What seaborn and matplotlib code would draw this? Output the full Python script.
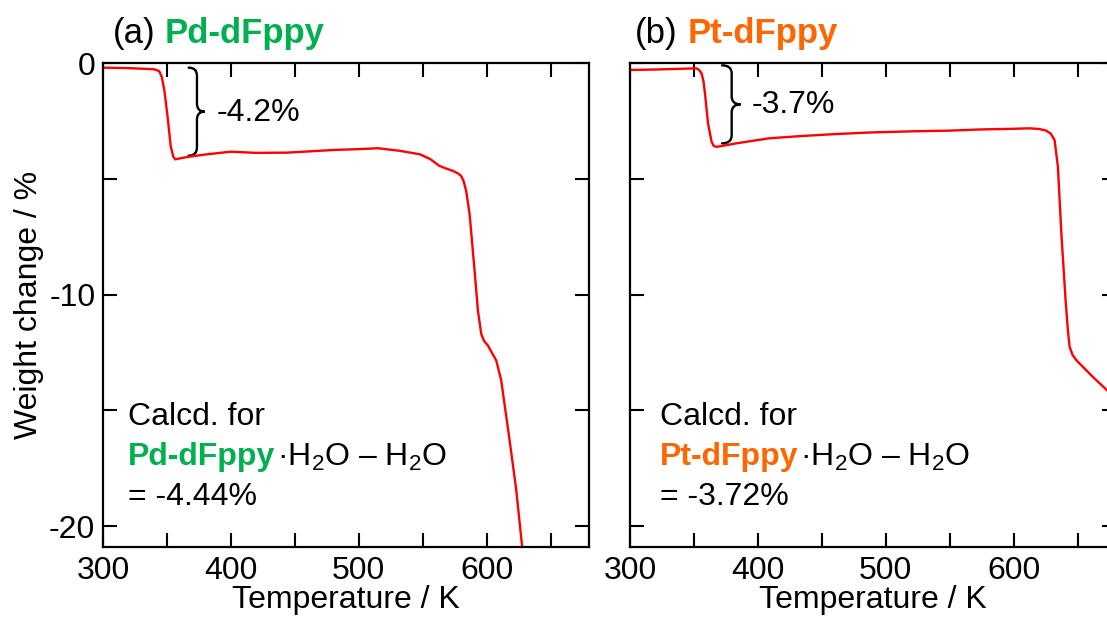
import numpy as np
import pandas as pd
import matplotlib
matplotlib.use("Agg")
import matplotlib.pyplot as plt
import seaborn as sns
from matplotlib.path import Path
from matplotlib.patches import PathPatch
from matplotlib.offsetbox import TextArea, HPacker, AnchoredOffsetbox

# ---------------- data ----------------
pd_temp = [300, 320, 340, 344, 346, 348, 350.5, 353, 355, 356.5, 360, 367, 380,
           400, 420, 444, 460, 482, 500, 515, 532, 547.7, 556, 563, 568, 573.7,
           578, 580, 582, 584, 586.7, 590.6, 593.2, 595.8, 598, 601, 604, 607.5,
           611.4, 618, 623.2, 627.8, 629.5]
pd_weight = [-0.20, -0.22, -0.27, -0.35, -0.60, -1.17, -2.30, -3.60, -4.05, -4.16,
             -4.12, -4.05, -3.95, -3.83, -3.88, -3.87, -3.82, -3.75, -3.72, -3.68,
             -3.79, -3.94, -4.15, -4.44, -4.55, -4.66, -4.78, -4.87, -5.10, -5.52,
             -6.52, -8.97, -10.69, -11.70, -12.00, -12.20, -12.50, -12.84, -13.70,
             -16.30, -18.45, -20.90, -21.60]

pt_temp = [300, 320, 340, 352, 354, 356, 357.5, 358.6, 361, 363.8, 365.5, 367.7,
           372, 383, 409, 435, 460, 487.5, 520, 550, 573.4, 600, 612.5, 620,
           625.5, 629, 632, 634.6, 637.3, 640.6, 642.5, 643.75, 646, 649, 660,
           672.4, 680]
pt_weight = [-0.30, -0.28, -0.25, -0.23, -0.30, -0.45, -0.80, -1.30, -2.60, -3.40,
             -3.58, -3.62, -3.58, -3.47, -3.25, -3.15, -3.07, -3.00, -2.95, -2.92,
             -2.87, -2.84, -2.82, -2.85, -2.92, -3.05, -3.33, -4.48, -7.36, -10.24,
             -11.60, -12.25, -12.60, -12.83, -13.45, -14.10, -14.55]

panel_letters = ["(a)", "(b)"]
compounds = ["Pd-dFppy", "Pt-dFppy"]
compound_colors = ["#00B050", "#FF6600"]
step_labels = ["-4.2%", "-3.7%"]
calc_labels = ["= -4.44%", "= -3.72%"]
# brace spec: (x_start, x_spine, x_tip, y_top, y_bottom)
braces = [(367, 373.5, 379.5, -0.2, -4.0), (372, 379.5, 386.5, -0.1, -3.47)]
step_text_pos = [(389, -2.15), (395, -1.8)]

x_major = [300, 400, 500, 600]
x_all = [300, 350, 400, 450, 500, 550, 600, 650]
y_major = [0, -10, -20]
y_all = [0, -5, -10, -15, -20]

# ---------------- style ----------------
sns.set_style("ticks")
plt.rcParams["font.family"] = ["Liberation Sans", "DejaVu Sans"]
plt.rcParams["mathtext.fontset"] = "custom"
plt.rcParams["mathtext.rm"] = "Liberation Sans"
plt.rcParams["mathtext.it"] = "Liberation Sans:italic"
plt.rcParams["mathtext.bf"] = "Liberation Sans:bold"
plt.rcParams["axes.unicode_minus"] = False
plt.rcParams["text.color"] = "black"
plt.rcParams["axes.labelcolor"] = "black"
plt.rcParams["xtick.color"] = "black"
plt.rcParams["ytick.color"] = "black"

FS = 23

fig = plt.figure(figsize=(11.07, 6.19), dpi=100)
ax_l = fig.add_axes([0.0930, 0.1163, 0.4390, 0.7819])
ax_r = fig.add_axes([0.5691, 0.1163, 0.4390, 0.7819])
axes = [ax_l, ax_r]

datasets = [
    pd.DataFrame({"T": pd_temp, "W": pd_weight}),
    pd.DataFrame({"T": pt_temp, "W": pt_weight}),
]


def draw_brace(ax, x0, xm, xt, ytop, ybot, r=0.35):
    ymid = (ytop + ybot) / 2
    verts = [(x0, ytop), (xm, ytop), (xm, ytop - r),
             (xm, ymid + r), (xm, ymid), (xt, ymid),
             (xm, ymid), (xm, ymid - r),
             (xm, ybot + r), (xm, ybot), (x0, ybot)]
    codes = [Path.MOVETO, Path.CURVE3, Path.CURVE3,
             Path.LINETO, Path.CURVE3, Path.CURVE3,
             Path.CURVE3, Path.CURVE3,
             Path.LINETO, Path.CURVE3, Path.CURVE3]
    ax.add_patch(PathPatch(Path(verts, codes), fill=False, lw=1.7,
                           edgecolor="black", capstyle="round"))


calc_x = [0.052, 0.062]
for i, ax in enumerate(axes):
    sns.lineplot(data=datasets[i], x="T", y="W", ax=ax, color="#FF0000",
                 linewidth=1.7, estimator=None, sort=False)
    ax.set_xlim(300, 680)
    ax.set_ylim(-20.9, 0)
    ax.set_xticks(x_all)
    ax.set_xticklabels([str(v) if v in x_major else "" for v in x_all])
    ax.set_yticks(y_all)
    if i == 0:
        ax.set_yticklabels([str(v) if v in y_major else "" for v in y_all])
        ax.set_ylabel("Weight change / %", fontsize=FS, labelpad=4, color="black")
    else:
        ax.set_yticklabels([])
        ax.set_ylabel("")
    ax.tick_params(axis="both", direction="in", length=10, width=1.5,
                   top=True, right=True, labelsize=FS, colors="black")
    ax.tick_params(axis="x", pad=6.5)
    ax.tick_params(axis="y", pad=5.5)
    ax.set_xlabel("Temperature / K", fontsize=FS, labelpad=-1, color="black")
    for sp in ax.spines.values():
        sp.set_linewidth(1.6)
        sp.set_color("black")
        sp.set_visible(True)

    # title: "(a) " + bold coloured compound name
    t1 = TextArea(panel_letters[i], textprops=dict(fontsize=25, color="black"))
    t2 = TextArea(compounds[i], textprops=dict(fontsize=25, color=compound_colors[i],
                                               fontweight="bold"))
    box = HPacker(children=[t1, t2], align="baseline", pad=0, sep=7)
    anc = AnchoredOffsetbox(loc="lower left", child=box, pad=0, borderpad=0,
                            frameon=False, bbox_to_anchor=(0.02 if i == 0 else 0.01, 1.026),
                            bbox_transform=ax.transAxes)
    ax.add_artist(anc)

    # brace and step label
    draw_brace(ax, *braces[i])
    ax.text(step_text_pos[i][0], step_text_pos[i][1], step_labels[i],
            fontsize=FS, va="center", ha="left", color="black")

    # calculation text
    ax.text(calc_x[i], 0.269, "Calcd. for", transform=ax.transAxes,
            fontsize=FS, va="center", ha="left", color="black")
    c1 = TextArea(compounds[i], textprops=dict(fontsize=FS, color=compound_colors[i],
                                               fontweight="bold"))
    c2 = TextArea("·H$_2$O – H$_2$O", textprops=dict(fontsize=FS, color="black"))
    box2 = HPacker(children=[c1, c2], align="baseline", pad=0, sep=1)
    anc2 = AnchoredOffsetbox(loc="center left", child=box2, pad=0, borderpad=0,
                             frameon=False, bbox_to_anchor=(calc_x[i], 0.186),
                             bbox_transform=ax.transAxes)
    ax.add_artist(anc2)
    ax.text(calc_x[i], 0.103, calc_labels[i], transform=ax.transAxes,
            fontsize=FS, va="center", ha="left", color="black")

fig.savefig("out.png", dpi=100)
